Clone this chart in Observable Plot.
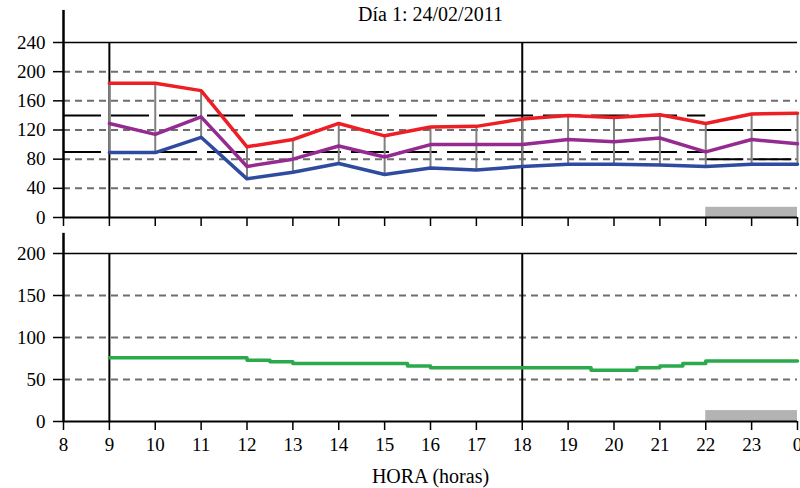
<!DOCTYPE html>
<html>
<head>
<meta charset="utf-8">
<script src="https://cdn.jsdelivr.net/npm/d3@7"></script>
<script src="https://cdn.jsdelivr.net/npm/@observablehq/plot@0.6"></script>
<style>
  html, body { margin: 0; padding: 0; background: #fff; }
  #chart { width: 800px; height: 488px; position: relative; overflow: hidden; background: #fff; }
  #chart svg { display: block; overflow: visible; }
</style>
</head>
<body>
<div id="chart"></div>
<script>
// ---- Data ----
const titulo = "Día 1: 24/02/2011";
const etiquetaX = "HORA (horas)";
const horas = [9, 10, 11, 12, 13, 14, 15, 16, 17, 18, 19, 20, 21, 22, 23, 24];
const sistolica = [184, 184, 174, 97, 107, 129, 112, 124, 125, 135, 140, 137, 141, 129, 142, 143];
const media = [129, 114, 138, 70, 80, 98, 83, 100, 100, 100, 107, 104, 109, 90, 107, 101];
const diastolica = [89, 89, 110, 53, 62, 74, 59, 68, 65, 70, 73, 73, 72, 70, 73, 73];

const horasFC = [9, 12, 12.5, 13, 15.5, 16, 19.5, 20.5, 21, 21.5, 22, 24];
const frecuencia = [76, 73, 71, 69, 66, 64, 61, 64, 66, 69, 72, 72];

const ticksHora = [8, 9, 10, 11, 12, 13, 14, 15, 16, 17, 18, 19, 20, 21, 22, 23, 24];
const etiquetasHora = ["8", "9", "10", "11", "12", "13", "14", "15", "16", "17", "18", "19", "20", "21", "22", "23", "0"];
const ticksPA = [0, 40, 80, 120, 160, 200, 240];
const gridPA = [40, 80, 120, 160, 200];
const umbralDia = [140, 90];
const umbralNoche = [120, 80];
const ticksFC = [0, 50, 100, 150, 200];
const gridFC = [50, 100, 150];
const marcasHora = [9, 18];
const periodoSueno = [22, 24];

// ---- Build ----
const tabla = horas.map((h, i) => ({hora: h, sis: sistolica[i], med: media[i], dia: diastolica[i]}));
const tablaFC = horasFC.map((h, i) => ({hora: h, fc: frecuencia[i]}));

const font = "'Liberation Serif', 'Times New Roman', serif";
const style = {fontFamily: font, fontSize: "19px", background: "transparent", overflow: "visible"};

const superior = Plot.plot({
  width: 800, height: 232,
  marginTop: 42, marginBottom: 15, marginLeft: 63, marginRight: 3,
  x: {domain: [8, 24]},
  y: {domain: [0, 240]},
  style,
  marks: [
    Plot.rect([periodoSueno], {x1: d => d[0], x2: d => d[1], y1: 0, y2: 14, fill: "#b3b3b3"}),
    Plot.ruleY(gridPA, {stroke: "#6e6e6e", strokeWidth: 2, strokeDasharray: "7,5"}),
    Plot.ruleY(umbralDia, {x1: 8, x2: periodoSueno[0], stroke: "#000", strokeWidth: 2, strokeDasharray: "38,10"}),
    Plot.ruleY(umbralNoche, {x1: periodoSueno[0], x2: periodoSueno[1], stroke: "#000", strokeWidth: 2, strokeDasharray: "38,10"}),
    Plot.ruleX(marcasHora, {stroke: "#000", strokeWidth: 2}),
    Plot.ruleX(tabla, {x: "hora", y1: "dia", y2: "sis", stroke: "#808080", strokeWidth: 2}),
    Plot.line(tabla, {x: "hora", y: "dia", stroke: "#2e4b9f", strokeWidth: 3.5}),
    Plot.line(tabla, {x: "hora", y: "med", stroke: "#952b91", strokeWidth: 3.5}),
    Plot.line(tabla, {x: "hora", y: "sis", stroke: "#ee1e25", strokeWidth: 3.5}),
    Plot.ruleY([240], {stroke: "#000", strokeWidth: 1.5}),
    Plot.ruleY([0], {stroke: "#000", strokeWidth: 2}),
    Plot.ruleX([8], {y1: 0, y2: 284, stroke: "#000", strokeWidth: 2.5}),
    Plot.axisY(ticksPA, {tickSize: 10, tickPadding: 8, strokeWidth: 1.5, label: null, fill: "#000"}),
    Plot.axisX(ticksHora, {tickSize: 9, strokeWidth: 1.5, tickFormat: () => "", label: null}),
    Plot.text([titulo], {text: d => d, frameAnchor: "top", dy: -28, lineAnchor: "middle", fontSize: 20, fill: "#000"})
  ]
});

const inferior = Plot.plot({
  width: 800, height: 256,
  marginTop: 21, marginBottom: 67, marginLeft: 63, marginRight: 3,
  x: {domain: [8, 24]},
  y: {domain: [0, 200]},
  style,
  marks: [
    Plot.rect([periodoSueno], {x1: d => d[0], x2: d => d[1], y1: 0, y2: 13, fill: "#b3b3b3"}),
    Plot.ruleY(gridFC, {stroke: "#6e6e6e", strokeWidth: 2, strokeDasharray: "7,5"}),
    Plot.ruleX(marcasHora, {stroke: "#000", strokeWidth: 2}),
    Plot.line(tablaFC, {x: "hora", y: "fc", curve: "step-after", stroke: "#2aaa4a", strokeWidth: 3.5}),
    Plot.ruleY([200], {stroke: "#000", strokeWidth: 1.5}),
    Plot.ruleY([0], {stroke: "#000", strokeWidth: 2}),
    Plot.ruleX([8], {y1: 0, y2: 224, stroke: "#000", strokeWidth: 2.5}),
    Plot.axisY(ticksFC, {tickSize: 10, tickPadding: 8, strokeWidth: 1.5, label: null, fill: "#000"}),
    Plot.axisX(ticksHora, {tickSize: 9, tickPadding: 7, strokeWidth: 1.5, label: null, fill: "#000",
      tickFormat: d => etiquetasHora[ticksHora.indexOf(d)]}),
    Plot.text([etiquetaX], {text: d => d, frameAnchor: "bottom", dy: 55, lineAnchor: "middle", fontSize: 20, fill: "#000"})
  ]
});

const cont = document.getElementById("chart");
cont.appendChild(superior);
cont.appendChild(inferior);
</script>
</body>
</html>
